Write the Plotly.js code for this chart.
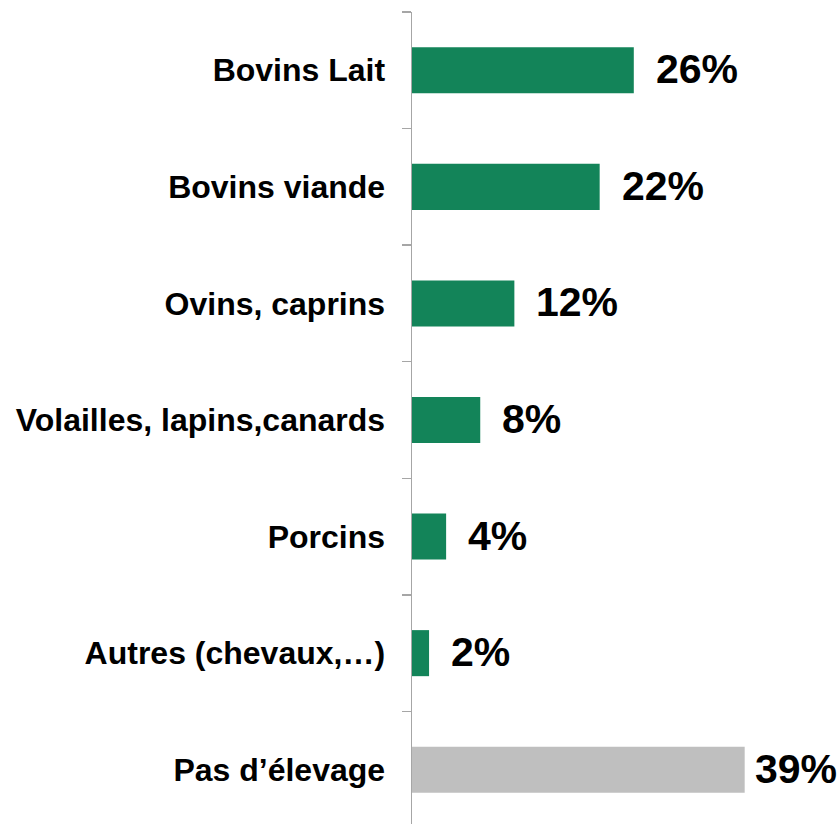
<!DOCTYPE html>
<html>
<head>
<meta charset="utf-8">
<script src="https://cdn.plot.ly/plotly-3.0.1.min.js"></script>
<style>
html,body{margin:0;padding:0;overflow:hidden;background:#fff;}
#chart{width:838px;height:828px;}
</style>
</head>
<body>
<div id="chart"></div>
<script>
const categories = ["Bovins Lait", "Bovins viande", "Ovins, caprins", "Volailles, lapins,canards", "Porcins", "Autres (chevaux,…)", "Pas d’élevage"];
const values = [26, 22, 12, 8, 4, 2, 39];
const valueLabels = ["26%", "22%", "12%", "8%", "4%", "2%", "39%"];
const barColors = ["#138459", "#138459", "#138459", "#138459", "#138459", "#138459", "#BFBFBF"];

const trace = {
  type: "bar",
  orientation: "h",
  x: values,
  y: categories,
  marker: {color: barColors, line: {width: 0}},
  hoverinfo: "none"
};

const FONT = "Liberation Sans, Arial, sans-serif";
const annotations = values.map((v, i) => ({
  x: v, y: categories[i], xref: "x", yref: "y",
  text: valueLabels[i], showarrow: false,
  xanchor: "left", yanchor: "middle", xshift: 20, yshift: 1,
  font: {family: FONT, size: 41, color: "#000", weight: "bold"}
}));
// the longest bar's label sits closer to the bar so that it fits
annotations[annotations.length - 1].xshift = 8;

const layout = {
  width: 838, height: 828,
  margin: {l: 412, r: 8, t: 12, b: 0},
  paper_bgcolor: "#fff", plot_bgcolor: "#fff",
  showlegend: false,
  bargap: 0.605,
  xaxis: {
    range: [0, 49], visible: false, fixedrange: true
  },
  yaxis: {
    type: "category",
    autorange: "reversed",
    showline: true, linecolor: "#A6A6A6", linewidth: 1.5,
    ticks: "outside", tickson: "boundaries", ticklen: 9, tickcolor: "#A6A6A6", tickwidth: 1.5,
    ticklabelstandoff: 19,
    showgrid: false, zeroline: false,
    tickfont: {family: FONT, size: 32, color: "#000", weight: "bold"}
  },
  annotations: annotations,
  font: {family: FONT, weight: "bold"}
};

Plotly.newPlot("chart", [trace], layout, {displayModeBar: false, staticPlot: true});
</script>
</body>
</html>
